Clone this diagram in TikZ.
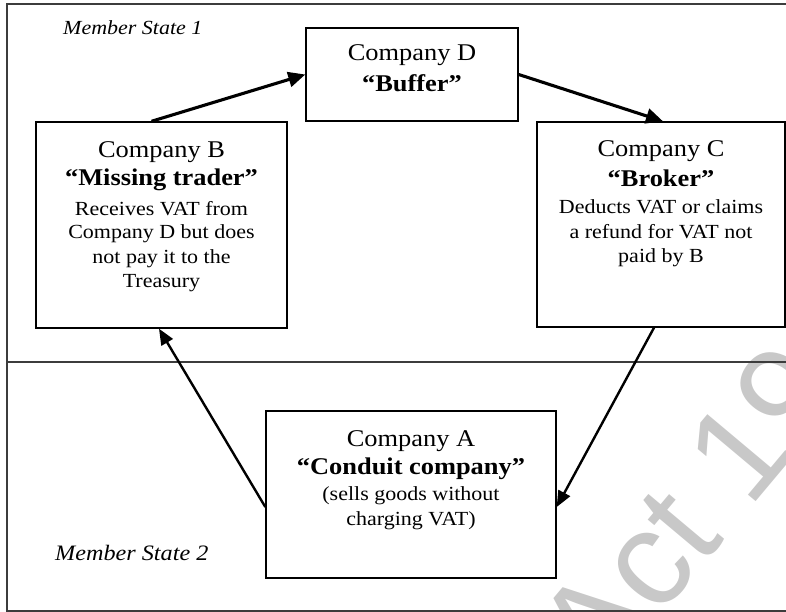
\documentclass[tikz,border=0pt]{standalone}
\usepackage{fontspec}
\setmainfont{Liberation Serif}[FakeStretch=1.1]
\newfontfamily\wmfont{Liberation Sans}
\usetikzlibrary{arrows.meta}
\definecolor{wmgray}{RGB}{200,200,200}
\definecolor{framegray}{RGB}{60,60,60}
\begin{document}
\begin{tikzpicture}[x=1pt,y=-1pt,
  box/.style={draw=black, line width=1.4pt, inner sep=0pt},
  frameline/.style={draw=framegray, line width=1.7pt},
  bigtxt/.style={anchor=base, inner sep=0pt, font=\fontsize{24}{28}\selectfont},
  boldtxt/.style={anchor=base, inner sep=0pt, font=\fontsize{24}{28}\selectfont\bfseries},
  smalltxt/.style={anchor=base, inner sep=0pt, font=\fontsize{20}{24}\selectfont},
  statetxt/.style={anchor=base west, inner sep=0pt},
  arrowA/.style={line width=3.1pt, -{Triangle[length=17pt,width=15pt]}},
  arrowB/.style={line width=2.4pt, -{Triangle[length=16pt,width=13pt]}},
  wm/.style={text=wmgray, font=\wmfont\fontsize{135}{135}\selectfont, inner sep=0pt}]
\useasboundingbox (0,0) rectangle (786,612);
\clip (0,0) rectangle (786,612);
% watermark
\node[wm, rotate=50, anchor=base west] (wm) at (600,688) {Act 19};
% frame
\draw[frameline] (795,4) -- (7,4) -- (7,611) -- (795,611);
\draw[frameline] (7,362) -- (795,362);
% boxes
\node[box, minimum width=212pt, minimum height=93pt] (D) at (412,74.5) {};
\node[box, minimum width=251pt, minimum height=206pt] (B) at (161.5,225) {};
\node[box, minimum width=248pt, minimum height=205pt] (C) at (661,224.5) {};
\node[box, minimum width=290pt, minimum height=167pt] (A) at (411,494.5) {};
% texts
\node[statetxt, font=\fontsize{20}{24}\selectfont\itshape] (ms1) at (63,35) {Member State 1};
\node[statetxt, font=\fontsize{22}{26}\selectfont\itshape] (ms2) at (55,560) {Member State 2};

\node[bigtxt] (d1) at (412,61) {Company D};
\node[boldtxt] (d2) at (412,92) {“Buffer”};

\node[bigtxt] (b1) at (161.5,158) {Company B};
\node[boldtxt] (b2) at (161.5,186) {“Missing trader”};
\node[smalltxt] (b3) at (161.5,215) {Receives VAT from};
\node[smalltxt] (b4) at (161.5,239) {Company D but does};
\node[smalltxt] (b5) at (161.5,263) {not pay it to the};
\node[smalltxt] (b6) at (161.5,287) {Treasury};

\node[bigtxt] (c1) at (661,157) {Company C};
\node[boldtxt] (c2) at (661,187) {“Broker”};
\node[smalltxt] (c3) at (661,214) {Deducts VAT or claims};
\node[smalltxt] (c4) at (661,238) {a refund for VAT not};
\node[smalltxt] (c5) at (661,262) {paid by B};

\node[bigtxt] (a1) at (411,446) {Company A};
\node[boldtxt] (a2) at (411,474) {“Conduit company”};
\node[smalltxt] (a3) at (411,500) {(sells goods without};
\node[smalltxt] (a4) at (411,525) {charging VAT)};
% arrows
\draw[arrowA] ([xshift=-10pt]B.north) -- (D.west);
\draw[arrowA] (D.east) -- ([xshift=2pt]C.north);
\draw[arrowB] ([xshift=-7pt]C.south) -- ([yshift=-12.5pt]A.east);
\draw[arrowB] ([yshift=-12.5pt]A.west) -- ([xshift=-2.5pt]B.south);
\end{tikzpicture}
\end{document}
